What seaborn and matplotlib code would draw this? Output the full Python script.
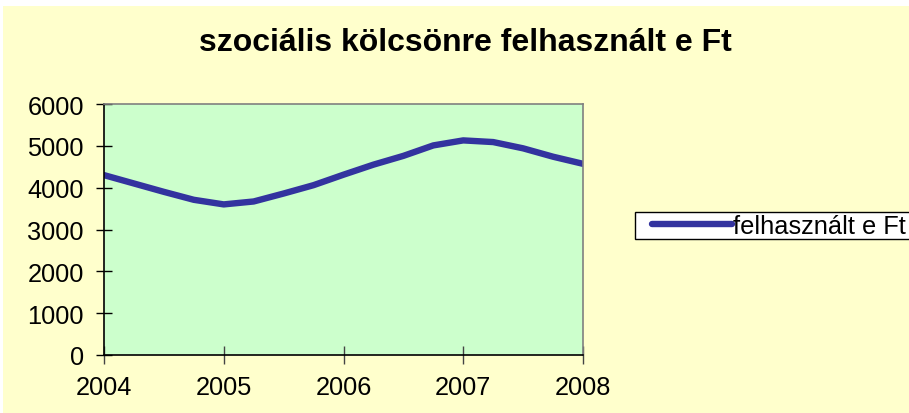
import matplotlib
matplotlib.use("Agg")
import matplotlib.pyplot as plt
import seaborn as sns
import pandas as pd
from matplotlib.patches import Rectangle

# Data (quarterly readings of the curve)
years = [2004.0, 2004.25, 2004.5, 2004.75, 2005.0, 2005.25, 2005.5, 2005.75,
         2006.0, 2006.25, 2006.5, 2006.75, 2007.0, 2007.25, 2007.5, 2007.75, 2008.0]
values = [4300, 4100, 3900, 3710, 3600, 3670, 3860, 4060,
          4310, 4550, 4760, 5010, 5130, 5090, 4940, 4740, 4570]
series_name = "felhasznált e Ft"
title = "szociális kölcsönre felhasznált e Ft"
x_ticks = [2004, 2005, 2006, 2007, 2008]
y_ticks = [0, 1000, 2000, 3000, 4000, 5000, 6000]

df = pd.DataFrame({"year": years, "value": values})

sns.set_theme(style="white")
plt.rcParams["font.family"] = ["Liberation Sans", "DejaVu Sans"]
plt.rcParams["text.color"] = "black"
plt.rcParams["xtick.color"] = "black"
plt.rcParams["ytick.color"] = "black"

FS = 18.3
W, H = 909, 414
fig = plt.figure(figsize=(W / 100, H / 100), dpi=100, facecolor="white")
# chart area background
fig.patches.append(Rectangle((3 / W, -0.01), 1.1, (H - 7) / H + 0.01,
                             transform=fig.transFigure,
                             facecolor="#FFFFCC", edgecolor="none", zorder=-5))
# legend box
fig.patches.append(Rectangle((635 / W, 1 - 240 / H), 300 / W, 27 / H,
                             transform=fig.transFigure,
                             facecolor="white", edgecolor="black", linewidth=1.0,
                             zorder=-4))

left, right, top, bottom = 104, 583, 105, 356
ax = fig.add_axes([left / W, (H - bottom) / H, (right - left) / W, (bottom - top) / H])
ax.set_zorder(1)
ax.set_facecolor("#CCFFCC")

sns.lineplot(data=df, x="year", y="value", ax=ax, color="#33339F", linewidth=4.6,
             label=series_name)

ax.set_xlim(2004, 2008)
ax.set_ylim(0, 6000)
ax.set_xticks(x_ticks)
ax.set_xticklabels([str(t) for t in x_ticks])
ax.set_yticks(y_ticks)
ax.set_yticklabels([str(t) for t in y_ticks])
ax.set_xlabel("")
ax.set_ylabel("")

for s in ["left", "bottom"]:
    ax.spines[s].set_color("black")
    ax.spines[s].set_linewidth(1.2)
for s in ["right", "top"]:
    ax.spines[s].set_color("#808080")
    ax.spines[s].set_linewidth(1.2)

ax.tick_params(axis="y", direction="inout", length=11, width=1, color="black",
               labelsize=FS, pad=9, left=True, labelcolor="black")
ax.tick_params(axis="x", direction="inout", length=13, width=1, color="#444444",
               labelsize=FS, pad=8, bottom=True, labelcolor="black")

fig.text(465 / W, 1 - 43 / H, title, ha="center", va="center",
         fontsize=23, fontweight="bold", color="black")

leg = ax.legend(loc="center left", bbox_to_anchor=(652 / W, 1 - 227 / H),
                bbox_transform=fig.transFigure, frameon=False,
                fontsize=FS, handlelength=3.15, handletextpad=0.05,
                borderpad=0, borderaxespad=0)
for t in leg.get_texts():
    t.set_color("black")

fig.savefig("out.png", dpi=100, facecolor=fig.get_facecolor())
